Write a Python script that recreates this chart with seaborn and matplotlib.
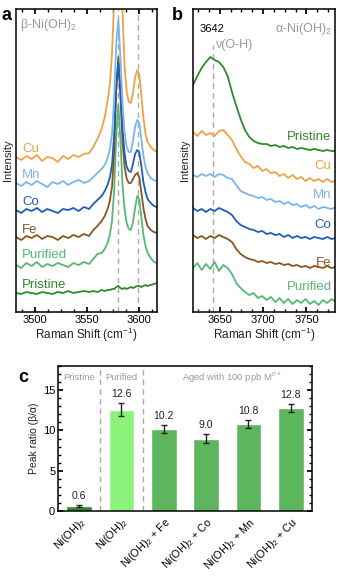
import numpy as np
import pandas as pd
import matplotlib
matplotlib.use("Agg")
import matplotlib.pyplot as plt
from matplotlib.ticker import MultipleLocator
import seaborn as sns

# ---------------- data ----------------
series_a = ["Pristine", "Purified", "Fe", "Co", "Mn", "Cu"]
xa = [3482, 3487, 3492, 3497, 3502, 3507, 3512, 3517, 3522, 3527, 3532, 3537, 3542, 3547, 3552,
      3556, 3560, 3564, 3567, 3570,
      3572, 3574, 3576, 3578, 3580, 3582, 3584, 3586, 3588, 3590, 3592, 3594, 3596, 3598, 3600,
      3602, 3604, 3606, 3608, 3611, 3614, 3617]
a_pristine = [19, 18, 20, 19, 18, 20, 19, 18, 20, 19, 21, 19, 20, 21, 20,
              21, 20, 22, 21, 22,
              22, 23, 23, 25, 26, 24, 23, 24, 23, 24, 25, 24, 25, 26, 26,
              25, 26, 27, 26, 27, 28, 29]
a_purified = [47, 44, 49, 46, 50, 45, 48, 46, 49, 47, 45, 49, 47, 50, 48,
              53, 58, 59, 63, 70,
              78, 92, 122, 177, 207, 172, 127, 102, 89, 83, 82, 90, 104, 116, 113,
              95, 77, 66, 59, 54, 50, 49]
a_fe = [75, 72, 76, 74, 77, 73, 76, 75, 72, 76, 74, 77, 75, 78, 76,
        82, 86, 91, 96, 104,
        112, 126, 160, 220, 255, 215, 170, 145, 133, 129, 129, 133, 137, 139, 135,
        120, 104, 93, 86, 82, 80, 79]
a_co = [102, 99, 103, 101, 104, 100, 103, 101, 99, 103, 102, 104, 101, 105, 103,
        108, 112, 116, 121, 128,
        135, 148, 178, 228, 250, 221, 183, 158, 145, 141, 140, 148, 158, 162, 160,
        146, 130, 120, 113, 109, 106, 105]
a_mn = [129, 126, 130, 127, 131, 128, 125, 130, 128, 131, 127, 130, 132, 129, 131,
        135, 139, 143, 147, 155,
        163, 179, 214, 269, 292, 254, 209, 179, 165, 160, 160, 171, 185, 192, 189,
        173, 156, 145, 139, 134, 132, 131]
a_cu = [155, 152, 156, 153, 157, 151, 155, 154, 150, 156, 153, 157, 155, 158, 159,
        165, 173, 183, 195, 213,
        229, 260, 315, 390, 415, 375, 300, 245, 220, 210, 209, 219, 234, 242, 238,
        217, 194, 178, 170, 165, 162, 160]

series_b = ["Pristine", "Cu", "Mn", "Co", "Fe", "Purified"]
xb = [3619, 3624, 3629, 3634, 3639, 3644, 3649, 3654, 3659, 3664, 3669, 3674, 3679, 3684, 3689,
      3694, 3699, 3704, 3709, 3714, 3719, 3724, 3729, 3734, 3739, 3744, 3749, 3754, 3759, 3764,
      3769, 3774, 3779, 3784]
b_pristine = [227, 236, 244, 250, 255, 252, 250, 245, 236, 220, 206, 193, 182, 175, 171,
              169, 168, 168, 166, 167, 165, 166, 164, 165, 163, 164, 163, 162, 163, 162,
              161, 162, 161, 161]
b_cu = [180, 176, 181, 177, 179, 176, 181, 182, 177, 172, 163, 156, 150, 148, 144,
        146, 141, 143, 139, 140, 136, 138, 134, 137, 133, 135, 131, 134, 131, 133,
        130, 133, 130, 131]
b_mn = [137, 135, 138, 136, 138, 135, 138, 137, 134, 133, 127, 121, 119, 117, 116,
        114, 115, 112, 113, 110, 111, 108, 110, 107, 108, 105, 107, 104, 106, 103,
        105, 104, 103, 105]
b_co = [104, 101, 103, 100, 103, 101, 104, 102, 100, 97, 91, 87, 85, 83, 82,
        80, 81, 78, 79, 77, 78, 75, 77, 74, 76, 74, 75, 73, 75, 74,
        73, 75, 73, 74]
b_fe = [77, 74, 76, 73, 76, 74, 77, 75, 73, 70, 63, 58, 55, 53, 52,
        50, 51, 49, 50, 48, 49, 47, 48, 46, 47, 45, 46, 44, 46, 45,
        44, 46, 44, 45]
b_purified = [44, 49, 42, 48, 43, 50, 41, 47, 44, 38, 29, 24, 20, 17, 19,
              14, 16, 12, 15, 10, 14, 9, 13, 8, 12, 9, 13, 8, 11, 7,
              12, 9, 13, 10]

bar_labels = ["Ni(OH)$_2$", "Ni(OH)$_2$", "Ni(OH)$_2$ + Fe", "Ni(OH)$_2$ + Co",
              "Ni(OH)$_2$ + Mn", "Ni(OH)$_2$ + Cu"]
bar_values = [0.6, 12.6, 10.2, 9.0, 10.8, 12.8]
bar_errors = [0.15, 0.8, 0.5, 0.6, 0.45, 0.5]

# ---------------- style ----------------
sns.set_theme(style="ticks")
plt.rcParams["font.family"] = ["Liberation Sans", "DejaVu Sans"]
plt.rcParams["mathtext.fontset"] = "custom"
plt.rcParams["mathtext.rm"] = "Liberation Sans"
plt.rcParams["mathtext.it"] = "Liberation Sans:italic"
plt.rcParams["xtick.direction"] = "in"
plt.rcParams["ytick.direction"] = "in"
plt.rcParams["axes.linewidth"] = 1.1
plt.rcParams["axes.edgecolor"] = "black"
plt.rcParams["xtick.color"] = "black"
plt.rcParams["ytick.color"] = "black"
plt.rcParams["text.color"] = "#222222"
plt.rcParams["axes.labelcolor"] = "#222222"

colors = {"Pristine": "#2e8a2a", "Purified": "#55b878", "Fe": "#8a5520",
          "Co": "#1f5db5", "Mn": "#7ab6ee", "Cu": "#f0a244"}
GRAY = "#9a9a9a"

W, H = 344, 576
fig = plt.figure(figsize=(W / 100, H / 100), dpi=100)

def rect(l, t, r, b):
    return [l / W, 1 - b / H, (r - l) / W, (b - t) / H]

axa = fig.add_axes(rect(16, 9, 157, 312))
axb = fig.add_axes(rect(193, 9, 335, 312))
axc = fig.add_axes(rect(58, 366, 312, 511))

# ---------------- panel a ----------------
data_a = dict(zip(series_a, [a_pristine, a_purified, a_fe, a_co, a_mn, a_cu]))
for name in series_a:
    sns.lineplot(x=xa, y=data_a[name], ax=axa, color=colors[name], lw=1.3)
for xv in (3580, 3599):
    axa.axvline(xv, color="#aaaaaa", ls=(0, (4, 3)), lw=1.0, zorder=0)
axa.set_xlim(3482, 3617)
axa.set_ylim(0, 303)
axa.set_yticks([])
axa.set_xticks([3500, 3550, 3600])
axa.xaxis.set_minor_locator(MultipleLocator(12.5))
axa.tick_params(axis="x", which="both", top=True, labelsize=8, pad=2)
axa.tick_params(axis="x", which="major", length=3.5)
axa.tick_params(axis="x", which="minor", length=2)
axa.set_ylabel("Intensity", fontsize=8, labelpad=2)
axa.set_xlabel("Raman Shift (cm$^{-1}$)", fontsize=8.5, labelpad=1)
lab_a = {"Cu": 163, "Mn": 137, "Co": 110, "Fe": 82, "Purified": 57, "Pristine": 27}
for name, yv in lab_a.items():
    axa.text(3488, yv, name, color=colors[name], fontsize=9.5, ha="left", va="center")
axa.text(3486, 287, "β-Ni(OH)$_2$", color=GRAY, fontsize=9, ha="left", va="center")
fig.text(1 / W, 1 - 15 / H, "a", fontsize=13, fontweight="bold", ha="left", va="center",
         color="black")

# ---------------- panel b ----------------
data_b = dict(zip(series_b, [b_pristine, b_cu, b_mn, b_co, b_fe, b_purified]))
for name in series_b:
    sns.lineplot(x=xb, y=data_b[name], ax=axb, color=colors[name], lw=1.3)
axb.axvline(3642, ymax=0.88, color="#aaaaaa", ls=(0, (4, 3)), lw=1.0, zorder=0)
axb.set_xlim(3619, 3783)
axb.set_ylim(0, 303)
axb.set_yticks([])
axb.set_xticks([3650, 3700, 3750])
axb.xaxis.set_minor_locator(MultipleLocator(12.5))
axb.tick_params(axis="x", which="both", top=True, labelsize=8, pad=2)
axb.tick_params(axis="x", which="major", length=3.5)
axb.tick_params(axis="x", which="minor", length=2)
axb.set_ylabel("Intensity", fontsize=8, labelpad=2)
axb.set_xlabel("Raman Shift (cm$^{-1}$)", fontsize=8.5, labelpad=1)
lab_b = {"Pristine": 175, "Cu": 146, "Mn": 117, "Co": 87, "Fe": 49, "Purified": 25}
for name, yv in lab_b.items():
    axb.text(3779, yv, name, color=colors[name], fontsize=9.5, ha="right", va="center")
axb.text(3641, 283, "3642", color="black", fontsize=8, ha="center", va="center")
axb.text(3644, 267, "ν(O-H)", color=GRAY, fontsize=9, ha="left", va="center")
axb.text(3779, 283, "α-Ni(OH)$_2$", color=GRAY, fontsize=9, ha="right", va="center")
fig.text(172 / W, 1 - 15 / H, "b", fontsize=13, fontweight="bold", ha="left", va="center",
         color="black")

# ---------------- panel c ----------------
bar_colors = ["#2f8a2c", "#8cf27a", "#5db55d", "#5db55d", "#5db55d", "#5db55d"]
df_c = pd.DataFrame({"pos": list(range(len(bar_values))), "value": bar_values})
sns.barplot(data=df_c, x="pos", y="value", hue="pos", palette=bar_colors, legend=False,
            ax=axc, width=0.6, errorbar=None, saturation=1)
axc.errorbar(range(len(bar_values)), bar_values, yerr=bar_errors, fmt="none",
             ecolor="#222222", elinewidth=1.0, capsize=2.5, capthick=1.0)
for i, (v, e) in enumerate(zip(bar_values, bar_errors)):
    axc.text(i, v + e + 0.5, f"{v:.1f}", fontsize=7.5, ha="center", va="bottom", color="#222222")
for xv in (0.5, 1.5):
    axc.axvline(xv, color="#aaaaaa", ls=(0, (4, 3)), lw=1.0, zorder=0)
axc.set_xlim(-0.5, 5.5)
axc.set_ylim(0, 18)
axc.set_yticks([0, 5, 10, 15])
axc.yaxis.set_minor_locator(MultipleLocator(1))
axc.tick_params(axis="y", which="both", right=True, labelsize=8, pad=2)
axc.tick_params(axis="y", which="major", length=3.5)
axc.tick_params(axis="y", which="minor", length=2)
axc.tick_params(axis="x", which="both", length=0, pad=3)
axc.set_xticks(range(len(bar_labels)))
axc.set_xticklabels(bar_labels, rotation=45, ha="right", rotation_mode="anchor", fontsize=7.8)
axc.set_xlabel("")
axc.set_ylabel("Peak ratio (β/α)", fontsize=7.5, labelpad=3)
axc.text(0, 16.6, "Pristine", color=GRAY, fontsize=6.8, ha="center", va="center")
axc.text(1, 16.6, "Purified", color=GRAY, fontsize=6.8, ha="center", va="center")
axc.text(3.6, 16.6, "Aged with 100 ppb M$^{n+}$", color=GRAY, fontsize=6.8,
         ha="center", va="center")
fig.text(18 / W, 1 - 378 / H, "c", fontsize=13, fontweight="bold", ha="left", va="center",
         color="black")

fig.savefig("out.png", dpi=100)
